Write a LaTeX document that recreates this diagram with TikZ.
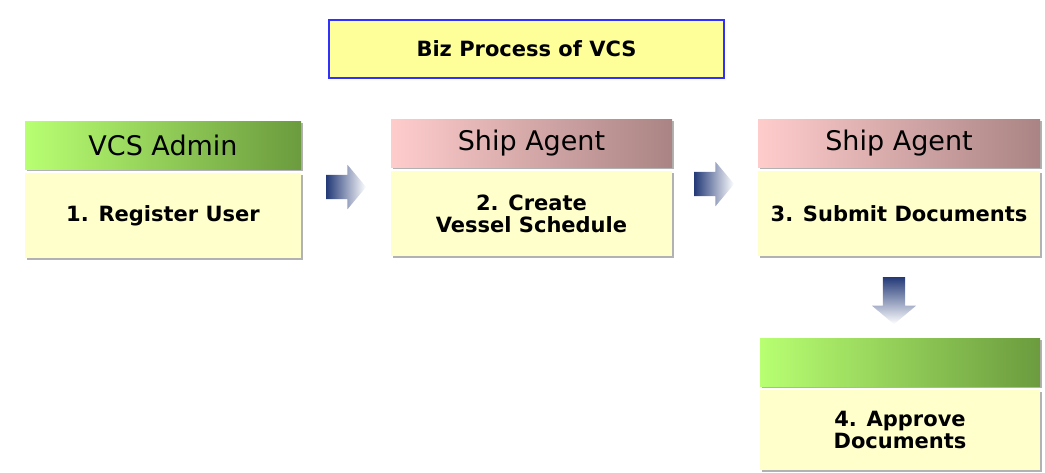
\documentclass[tikz,border=0pt]{standalone}
\usepackage{fontspec}
\setmainfont{DejaVu Sans}
\usetikzlibrary{positioning,shapes.arrows,shadows}
\definecolor{adminL}{HTML}{B8FF72}
\definecolor{adminR}{HTML}{6B9B3E}
\definecolor{agentL}{HTML}{FFCCCC}
\definecolor{agentR}{HTML}{AA8484}
\definecolor{taskfill}{HTML}{FFFFCC}
\definecolor{titlefill}{HTML}{FFFF99}
\definecolor{titleline}{HTML}{3030FF}
\definecolor{flowdark}{HTML}{243A78}

\begin{document}
\begin{tikzpicture}[x=1pt, y=-1pt,
  boxshadow/.style={drop shadow={shadow xshift=2pt, shadow yshift=-2pt, fill=black!30, opacity=1}},
  role/.style={minimum height=48pt, inner sep=0pt, boxshadow, font=\fontsize{27}{29}\selectfont},
  admin/.style={role, left color=adminL, right color=adminR},
  agent/.style={role, left color=agentL, right color=agentR},
  task/.style={minimum height=85pt, inner sep=0pt, fill=taskfill, boxshadow, align=center,
    font=\bfseries\fontsize{21}{22}\selectfont},
  flow/.style={single arrow, inner xsep=0pt, inner ysep=12pt, minimum height=40pt,
    single arrow head extend=10pt, single arrow tip angle=100},
  flowright/.style={flow, left color=flowdark, right color=white},
  flowdown/.style={flow, minimum height=47pt, inner xsep=11pt, inner ysep=0pt, single arrow head extend=11pt,
    shape border rotate=270, top color=flowdark, bottom color=white}]
  \useasboundingbox (0,0) rectangle (1045,472);

  \node[draw=titleline, line width=1.5pt, fill=titlefill, minimum width=395pt, minimum height=58pt,
    font=\bfseries\fontsize{21}{22}\selectfont] (title) at (526.5,49) {Biz Process of VCS};

  \node[admin, minimum width=276pt] (admin1) at (163,145) {VCS Admin};
  \node[task, minimum width=276pt, below=4pt of admin1] (step1) {1. Register User};

  \node[agent, minimum width=281pt] (agent2) at (531.5,143) {Ship Agent};
  \node[task, minimum width=281pt, below=4pt of agent2] (step2) {2. Create\\Vessel Schedule};

  \node[agent, minimum width=282pt] (agent3) at (899,143) {Ship Agent};
  \node[task, minimum width=282pt, below=4pt of agent3] (step3) {3. Submit Documents};

  \node[admin, minimum width=280pt] (admin4) at (900,362) {};
  \node[task, minimum width=280pt, minimum height=80pt, below=4pt of admin4] (step4) {4. Approve\\Documents};

  \node[flowright] (flow12) at (341,187) {};
  \node[flowright] (flow23) at (709,184) {};
  \node[flowdown] (flow34) at (894,296) {};
\end{tikzpicture}
\end{document}
